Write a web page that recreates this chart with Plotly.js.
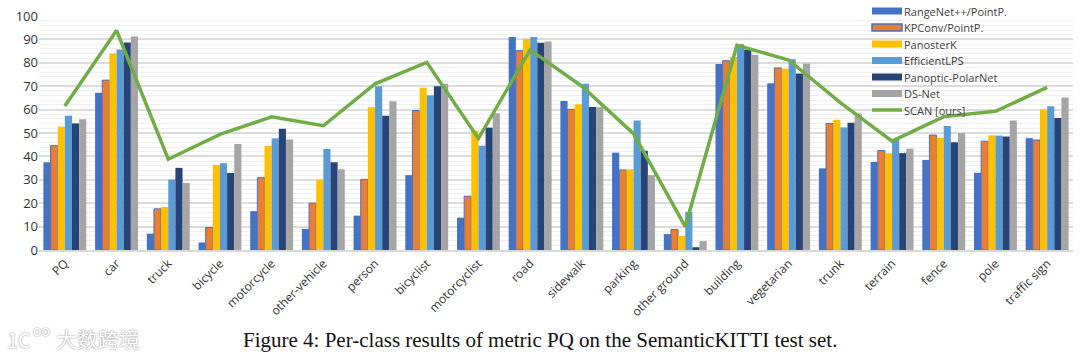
<!DOCTYPE html>
<html><head><meta charset="utf-8">
<script src="https://cdn.plot.ly/plotly-3.0.1.min.js"></script>
<style>html,body{margin:0;padding:0;background:#fff;overflow:hidden}</style>
</head><body><div id="chart" style="width:1080px;height:357px"></div>
<script>
const categories = ["PQ","car","truck","bicycle","motorcycle","other-vehicle","person","bicyclist","motorcyclist","road","sidewalk","parking","other ground","building","vegetarian","trunk","terrain","fence","pole","traffic sign"];
const rangeNet = [37.5,67.2,7,3.2,16.6,9,14.7,32,13.8,91,63.7,41.6,6.8,79.5,71.3,34.9,37.6,38.5,33,47.8];
const kpConv = [44.6,72.6,17.6,9.6,30.9,20,30.2,59.6,23,85.2,60.1,34.2,8.8,80.9,77.8,54.1,42.5,49.1,46.5,47];
const panosterK = [52.7,84,18.4,36.3,44.6,30,61,69.3,51,90.2,62.3,34.5,6,82.5,77.5,55.7,41.3,47.9,49,60];
const efficientLPS = [57.4,85.7,30.1,37.1,47.7,43.2,70,66.1,44.6,91,71.1,55.3,16.3,87.9,81.5,52.4,47,53,48.9,61.4];
const polarNet = [54.1,88.7,35.1,32.9,51.8,37.5,57.4,70,52.3,88.6,61.1,42.4,1.2,85.6,75.4,54.4,41.4,46,48.5,56.4];
const dsNet = [55.9,91.2,28.7,45.3,47.2,34.5,63.6,71.1,58.4,89.1,61,32,3.8,83.4,79.7,58.3,43.3,50,55.3,65.2];
const scan = [61.5,93.8,38.8,49.4,56.9,53.1,71,80.2,47.7,85.5,70,49.7,10,87.5,81.2,63,46.5,57,59.3,69.5];
const yTicks = [0,10,20,30,40,50,60,70,80,90,100];
const barNames = ["RangeNet++/PointP.","KPConv/PointP.","PanosterK","EfficientLPS","Panoptic-PolarNet","DS-Net"];
const barValues = [rangeNet,kpConv,panosterK,efficientLPS,polarNet,dsNet];
const barColors = ["#4472c4","#ed7d31","#ffc000","#5b9bd5","#264478","#a5a5a5"];
const lineName = "SCAN [ours]";
const lineColor = "#70ad47";
const captionText = "Figure 4: Per-class results of metric PQ on the SemanticKITTI test set.";
const watermarkText = "大数跨境";
const logoText = "1C";
const logoSmallText = "oo";

const traces = barNames.map((n,i)=>({type:"bar",name:n,x:categories,y:barValues[i],
  marker:{color:barColors[i],line:{color:i===1?"#4472c4":barColors[i],width:i===1?1:0}}}));
traces.push({type:"scatter",mode:"lines",name:lineName,x:categories,y:scan,line:{color:lineColor,width:3.5}});

const W=1080,H=357;
const shapes=[],annotations=[];
const legendTop=11, rowH=16.5, swX0=872, swX1=902;
const px=v=>(v-39)/1034, py=v=>(250-v)/234;
barNames.concat([lineName]).forEach((n,i)=>{
  const yc=legendTop+i*rowH;
  if(i<6){
    shapes.push({type:"rect",xref:"paper",yref:"paper",layer:"above",
      x0:px(swX0),x1:px(swX1),y0:py(yc-3.5),y1:py(yc+3.5),
      fillcolor:barColors[i],line:{color:i===1?"#4472c4":barColors[i],width:i===1?1.5:0}});
  } else {
    shapes.push({type:"line",xref:"paper",yref:"paper",layer:"above",
      x0:px(swX0),x1:px(swX1),y0:py(yc),y1:py(yc),
      line:{color:lineColor,width:3.5}});
  }
  annotations.push({xref:"paper",yref:"paper",x:px(904),y:py(yc),xanchor:"left",yanchor:"middle",
    text:n,showarrow:false,font:{family:"Open Sans",size:11,color:"#404040"},xshift:-2});
});
annotations.push({xref:"paper",yref:"paper",x:px(540),y:py(340),xanchor:"center",yanchor:"middle",
  text:captionText,showarrow:false,font:{family:"Liberation Serif",size:21,color:"#111"}});
const wmFont=s=>({family:"Noto Sans CJK SC",size:s,color:"#ffffff",shadow:"0px 0px 2px #777"});
annotations.push({xref:"paper",yref:"paper",x:px(98),y:py(338),xanchor:"center",yanchor:"middle",
  text:watermarkText,showarrow:false,font:wmFont(21)});
annotations.push({xref:"paper",yref:"paper",x:px(19),y:py(339),xanchor:"center",yanchor:"middle",
  text:logoText,showarrow:false,font:wmFont(20),borderpad:0});
annotations.push({xref:"paper",yref:"paper",x:px(41),y:py(330),xanchor:"center",yanchor:"middle",
  text:logoSmallText,showarrow:false,font:wmFont(14),borderpad:0});

Plotly.newPlot("chart",traces,{
  width:W,height:H,paper_bgcolor:"#fff",plot_bgcolor:"#fff",
  margin:{l:39,r:7,t:16,b:107},
  barmode:"group",bargap:0.17,bargroupgap:0,showlegend:false,
  xaxis:{type:"category",tickangle:-45,ticks:"",showgrid:false,zeroline:false,showline:true,linecolor:"#d9d9d9",linewidth:1.5,
    tickfont:{family:"Open Sans",size:12,color:"#333"},automargin:false},
  yaxis:{range:[0,100],tickvals:yTicks,ticktext:yTicks.map(String),showline:false,zeroline:false,ticks:"",
    gridcolor:"#dcdcdc",gridwidth:1.5,tickfont:{family:"Open Sans",size:13,color:"#333"},
    minor:{dtick:2,showgrid:true,gridcolor:"#f0f0f0",gridwidth:1},automargin:false},
  shapes,annotations
},{displayModeBar:false});
</script></body></html>
